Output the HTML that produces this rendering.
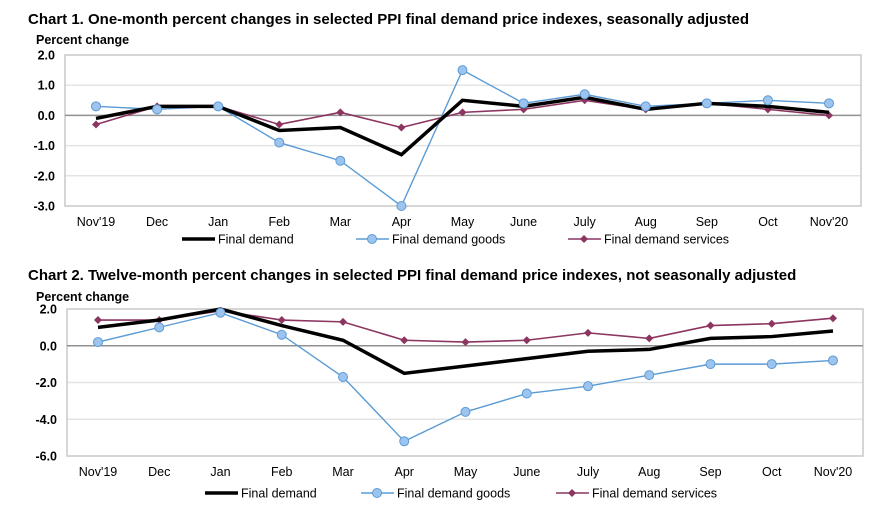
<!DOCTYPE html>
<html><head><meta charset="utf-8"><style>
body{margin:0;background:#fff;width:890px;height:511px;overflow:hidden;font-family:"Liberation Sans",Arial,sans-serif}
svg text{font-family:"Liberation Sans",Arial,sans-serif}
</style></head><body>
<svg id="svg" width="890" height="511">
<text x="28" y="24" font-size="15" font-weight="bold">Chart 1. One-month percent changes in selected PPI final demand price indexes, seasonally adjusted</text>
<text x="36" y="44" font-size="12.5" font-weight="bold">Percent change</text>
<text x="28" y="280" font-size="15" font-weight="bold">Chart 2. Twelve-month percent changes in selected PPI final demand price indexes, not seasonally adjusted</text>
<text x="36" y="301" font-size="12.5" font-weight="bold">Percent change</text>
</svg>
<script>
const categories=["Nov'19","Dec","Jan","Feb","Mar","Apr","May","June","July","Aug","Sep","Oct","Nov'20"];
const c1Demand=[-0.1,0.3,0.3,-0.5,-0.4,-1.3,0.5,0.3,0.6,0.2,0.4,0.3,0.1];
const c1Goods=[0.3,0.2,0.3,-0.9,-1.5,-3.0,1.5,0.4,0.7,0.3,0.4,0.5,0.4];
const c1Services=[-0.3,0.3,0.3,-0.3,0.1,-0.4,0.1,0.2,0.5,0.2,0.4,0.2,0.0];
const c1Ticks=[2,1,0,-1,-2,-3];
const c2Demand=[1.0,1.4,2.0,1.1,0.3,-1.5,-1.1,-0.7,-0.3,-0.2,0.4,0.5,0.8];
const c2Goods=[0.2,1.0,1.8,0.6,-1.7,-5.2,-3.6,-2.6,-2.2,-1.6,-1.0,-1.0,-0.8];
const c2Services=[1.4,1.4,1.9,1.4,1.3,0.3,0.2,0.3,0.7,0.4,1.1,1.2,1.5];
const c2Ticks=[2,0,-2,-4,-6];

const NS="http://www.w3.org/2000/svg";
const svg=document.getElementById('svg');
function mk(tag,attrs,parent){const e=document.createElementNS(NS,tag);for(const k in attrs)e.setAttribute(k,attrs[k]);(parent||svg).appendChild(e);return e;}

function chart(cfg){
  const g=mk('g',{});
  
  
  const ymax=cfg.ticks[0],ymin=cfg.ticks[cfg.ticks.length-1];
  const y=v=>cfg.top+(ymax-v)/(ymax-ymin)*(cfg.bottom-cfg.top);
  const x=i=>cfg.x0+i*(cfg.x1-cfg.x0)/(categories.length-1);
  cfg.ticks.forEach(t=>{
    if(t!==ymax&&t!==ymin&&t!==0){const l=mk('line',{x1:cfg.left,x2:cfg.right,y1:y(t),y2:y(t),stroke:'#e4e4e4','stroke-width':1.5},g);
    
    }
    const tx=mk('text',{x:cfg.left-10,y:y(t)+4.5,'font-size':12.5,'font-weight':'bold','text-anchor':'end'},g);
    tx.textContent=t.toFixed(1);
    
    
  });
  const fr=mk('rect',{x:cfg.left,y:cfg.top,width:cfg.right-cfg.left,height:cfg.bottom-cfg.top,fill:'none',stroke:'#c8c8c8','stroke-width':1.5},g);
  
  
  const z=mk('line',{x1:cfg.left,x2:cfg.right,y1:y(0),y2:y(0),stroke:'#909090','stroke-width':1.5},g);
  
  
  categories.forEach((c,i)=>{
    const t=mk('text',{x:x(i),y:cfg.bottom+20,'font-size':12.5,'text-anchor':'middle'},g);
    t.textContent=c;
    
    
  });
  const pts=a=>a.map((v,i)=>x(i)+','+y(v)).join(' ');
  const s=mk('polyline',{points:pts(cfg.services),fill:'none',stroke:'#8c3560','stroke-width':1.6},g);
  
  
  cfg.services.forEach((v,i)=>{const d=mk('path',{d:`M${x(i)},${y(v)-4}l4,4l-4,4l-4,-4z`,fill:'#8c3560'},g);
    
    });
  const gl=mk('polyline',{points:pts(cfg.goods),fill:'none',stroke:'#5b9bd5','stroke-width':1.4},g);
  
  
  const dl=mk('polyline',{points:pts(cfg.demand),fill:'none',stroke:'#000','stroke-width':3.5},g);
  
  
  cfg.goods.forEach((v,i)=>{const c=mk('circle',{cx:x(i),cy:y(v),r:4.5,fill:'#9dc3ef',stroke:'#5b9bd5','stroke-width':1},g);
    
    });
  const L=cfg.leg,ly=cfg.legY;
  const l1=mk('line',{x1:L[0],x2:L[0]+33,y1:ly,y2:ly,stroke:'#000','stroke-width':3.5},g);
  
  
  const t1=mk('text',{x:L[0]+36,y:ly+4.5,'font-size':12.5},g);t1.textContent='Final demand';
  
  
  const l2=mk('line',{x1:L[1],x2:L[1]+33,y1:ly,y2:ly,stroke:'#5b9bd5','stroke-width':1.4},g);
  
  
  mk('circle',{cx:L[1]+16,cy:ly,r:4.5,fill:'#9dc3ef',stroke:'#5b9bd5'},g);
  const t2=mk('text',{x:L[1]+36,y:ly+4.5,'font-size':12.5},g);t2.textContent='Final demand goods';
  
  
  const l3=mk('line',{x1:L[2],x2:L[2]+33,y1:ly,y2:ly,stroke:'#8c3560','stroke-width':1.6},g);
  
  
  mk('path',{d:`M${L[2]+16},${ly-4}l4,4l-4,4l-4,-4z`,fill:'#8c3560'},g);
  const t3=mk('text',{x:L[2]+36,y:ly+4.5,'font-size':12.5},g);t3.textContent='Final demand services';
  
  
}
chart({id:'chart1',left:65,right:861,top:55,bottom:206,x0:96,x1:829,ticks:c1Ticks,demand:c1Demand,goods:c1Goods,services:c1Services,leg:[182,356,568],legY:239});
chart({id:'chart2',left:67,right:863,top:309,bottom:456,x0:98,x1:833,ticks:c2Ticks,demand:c2Demand,goods:c2Goods,services:c2Services,leg:[205,361,556],legY:493});
</script>
</body></html>
